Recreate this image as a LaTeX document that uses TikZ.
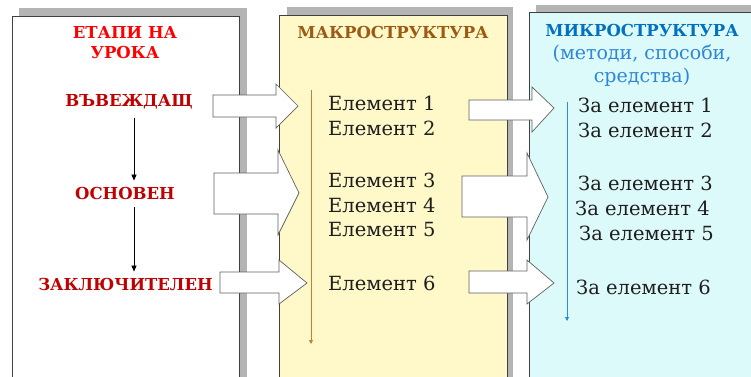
\documentclass[tikz,border=0pt]{standalone}
\usepackage{fontspec}
\setmainfont{DejaVu Serif}
\usetikzlibrary{arrows.meta}
\definecolor{shadowgray}{HTML}{B4B4B4}
\definecolor{panelline}{HTML}{404040}
\definecolor{macrofill}{HTML}{FFF8C8}
\definecolor{microfill}{HTML}{DCFAFA}
\definecolor{brightred}{HTML}{FF0000}
\definecolor{darkred}{HTML}{C00000}
\definecolor{macrobrown}{HTML}{9C5A14}
\definecolor{microblue}{HTML}{0070C0}
\definecolor{subblue}{HTML}{2E86D6}
\definecolor{arrowline}{HTML}{606060}
\definecolor{elemcol}{HTML}{1E1E1E}
\definecolor{brownline}{HTML}{C0803A}
\definecolor{blueline}{HTML}{2F8AD8}
\tikzset{
  panelshadow/.style={fill=shadowgray, draw=none},
  panelbox/.style={draw=panelline, line width=0.8pt},
  blockarrow/.style={fill=white, draw=arrowline, line width=0.7pt},
  stagetext/.style={text=darkred, font=\fontsize{16.5}{20}\selectfont\bfseries, inner sep=1pt},
  headtext/.style={font=\fontsize{16.5}{20}\selectfont\bfseries, align=center, inner sep=0pt},
  subtext/.style={font=\fontsize{19}{23}\selectfont, align=center, inner sep=0pt, text=subblue},
  elemtext/.style={text=elemcol, font=\fontsize{19.5}{22}\selectfont, anchor=west, inner sep=0pt},
}
\begin{document}
\begin{tikzpicture}[x=1pt,y=-1pt]
\useasboundingbox (0,0) rectangle (751,376);
\clip (0,0) rectangle (751,376);
\fill[white] (0,0) rectangle (751,376);
% panel 1
\path[panelshadow] (19,8) rectangle (247,380);
\path[panelbox, fill=white] (12,16) rectangle (239,380);
% panel 2
\path[panelshadow] (287,7) rectangle (513,380);
\path[panelbox, fill=macrofill] (279,15) rectangle (507,380);
% panel 3
\path[panelshadow] (536,5) rectangle (760,380);
\path[panelbox, fill=microfill] (529,12) rectangle (760,380);

% block arrows panel1 -> panel2
\path[blockarrow] (213,95) -- (276,95) -- (276,84) -- (298,106) -- (276,128) -- (276,117) -- (213,117) -- cycle;
\path[blockarrow] (214,173) -- (278,173) -- (278,150) -- (299,193) -- (278,235) -- (278,214) -- (214,214) -- cycle;
\path[blockarrow] (220,272) -- (279,272) -- (279,260) -- (307,283) -- (279,304) -- (279,293) -- (220,293) -- cycle;
% block arrows panel2 -> panel3
\path[blockarrow] (469,100) -- (532,100) -- (532,87) -- (554,108) -- (532,132) -- (532,120) -- (469,120) -- cycle;
\path[blockarrow] (462,176) -- (527,176) -- (527,153) -- (548,197) -- (527,240) -- (527,217) -- (462,217) -- cycle;
\path[blockarrow] (469,271) -- (527,271) -- (527,260) -- (554,283) -- (527,304) -- (527,293) -- (469,293) -- cycle;

% panel 1 texts
\node[headtext, text=brightred] (etapi) at (125,43) {ЕТАПИ НА\\УРОКА};
\node[stagetext] (vav) at (129,102) {ВЪВЕЖДАЩ};
\node[stagetext] (osn) at (125,193) {ОСНОВЕН};
\node[stagetext] (zak) at (125.5,284) {ЗАКЛЮЧИТЕЛЕН};
\coordinate (axis) at (134,0);
\draw[-{Triangle[width=5pt,length=6pt]}, line width=0.7pt, shorten <=7pt, shorten >=5pt]
  (vav.south -| axis) -- (osn.north -| axis);
\draw[-{Triangle[width=5pt,length=6pt]}, line width=0.7pt, shorten <=7pt, shorten >=5pt]
  (osn.south -| axis) -- (zak.north -| axis);

% panel 2 texts
\node[headtext, text=macrobrown] (macro) at (393,32) {МАКРОСТРУКТУРА};
\coordinate (mtop) at (311,90);
\coordinate (mbot) at (311,344);
\draw[brownline, line width=0.9pt, -{Triangle[width=4pt,length=4pt]}] (mtop) -- (mbot);
\node[elemtext] (e1) at (328,103) {Елемент 1};
\node[elemtext] (e2) at (328,128) {Елемент 2};
\node[elemtext] (e3) at (328,180) {Елемент 3};
\node[elemtext] (e4) at (328,205) {Елемент 4};
\node[elemtext] (e5) at (328,230) {Елемент 5};
\node[elemtext] (e6) at (328,283) {Елемент 6};

% panel 3 texts
\node[headtext, text=microblue] (micro) at (642,30) {МИКРОСТРУКТУРА};
\node[subtext] (sub) at (642,66) {(методи, способи,\\средства)};
\coordinate (btop) at (567,102);
\coordinate (bbot) at (567,321);
\draw[blueline, line width=0.9pt, -{Triangle[width=4pt,length=4pt]}] (btop) -- (bbot);
\node[elemtext] (z1) at (578,105) {За елемент 1};
\node[elemtext] (z2) at (578,130) {За елемент 2};
\node[elemtext] (z3) at (578,183) {За елемент 3};
\node[elemtext] (z4) at (575,208) {За елемент 4};
\node[elemtext] (z5) at (579,233) {За елемент 5};
\node[elemtext] (z6) at (576,287) {За елемент 6};
\end{tikzpicture}
\end{document}
